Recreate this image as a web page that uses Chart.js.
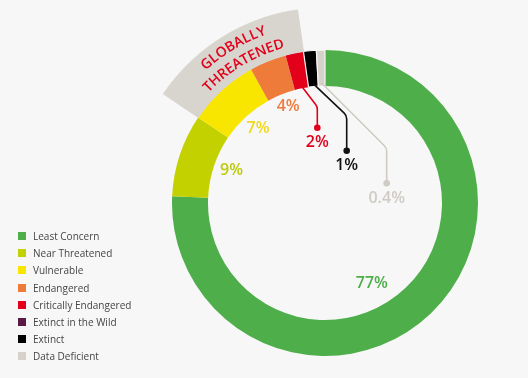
<!DOCTYPE html>
<html><head><meta charset="utf-8">
<script src="https://cdn.jsdelivr.net/npm/chart.js@4"></script>
<style>
html,body{margin:0;padding:0;background:#f7f7f7;}
#wrap{position:relative;width:528px;height:378px;overflow:hidden;background:#f7f7f7;}
#c{position:absolute;left:0;top:0;}
#legend{position:absolute;left:18px;top:227.5px;font-family:"Open Sans",sans-serif;font-size:10px;color:#454545;}
.row{height:17.2px;display:flex;align-items:center;white-space:nowrap;}
.sw{width:8px;height:8px;margin-right:7px;flex:none;}
</style></head>
<body><div id="wrap"><canvas id="c" width="528" height="406"></canvas><div id="legend"></div></div>
<script>
// ---- data ----
const categories = ["Least Concern","Near Threatened","Vulnerable","Endangered","Critically Endangered","Extinct in the Wild","Extinct","Data Deficient"];
const arcShare = [75.7, 8.75, 7.5, 3.9, 1.9, 0, 1.35, 0.9];
const percentLabels = ["77%","9%","7%","4%","2%","","1%","0.4%"];
const threatened = [false,false,true,true,true,false,false,false];
const bandTitle = ["GLOBALLY","THREATENED"];

// ---- styles ----
const colors = ["#4dae4a","#c4d100","#f9e600","#ef7b3b","#e2001a","#5b1a45","#000000","#d6d2ca"];
const labelColors = ["#4dae4a","#bccb0a","#f0d81c","#ef7b3b","#e2001a","#5b1a45","#111111","#cfcbc4"];
const bandColor = "#d8d4ce";
const bg = "#f7f7f7";

// legend (HTML)
const lg = document.getElementById('legend');
categories.forEach((c,i)=>{
  const r=document.createElement('div'); r.className='row';
  const s=document.createElement('span'); s.className='sw'; s.style.background=colors[i];
  const t=document.createElement('span'); t.textContent=c;
  r.appendChild(s); r.appendChild(t); lg.appendChild(r);
});

const overlay = {
  id:'overlay',
  afterDatasetsDraw(chart, args, o){
    const ctx = chart.ctx;
    const band = chart.getDatasetMeta(0).data;
    const ring = chart.getDatasetMeta(1).data;
    const cx = ring[0].x, cy = ring[0].y;
    const inR = ring[0].innerRadius;
    ctx.save();
    // curved band title
    const tIdx = threatened.map((t,i)=>t?i:-1).filter(i=>i>=0);
    const a0 = band[tIdx[0]].startAngle, a1 = band[tIdx[tIdx.length-1]].endAngle;
    const mid = (a0+a1)/2 + o.bandShift*Math.PI/180;
    const bIn = band[0].innerRadius, bOut = band[0].outerRadius;
    ctx.font = o.bandFont; ctx.fillStyle = o.bandTextColor;
    ctx.textAlign='center'; ctx.textBaseline='middle';
    bandTitle.forEach((line, li)=>{
      const r = bIn + o.bandRadii[li]*(bOut-bIn);
      const ws = [...line].map(ch=>ctx.measureText(ch).width);
      const W = ws.reduce((a,b)=>a+b,0) + o.bandSpacing*(ws.length-1);
      let s = -W/2;
      [...line].forEach((ch,k)=>{
        const a = mid + (s + ws[k]/2)/r;
        ctx.save();
        ctx.translate(cx + r*Math.cos(a), cy + r*Math.sin(a));
        ctx.rotate(a + Math.PI/2);
        ctx.fillText(ch,0,0);
        ctx.restore();
        s += ws[k] + o.bandSpacing;
      });
    });
    // percent labels
    ctx.font = o.labelFont;
    ring.forEach((arc,i)=>{
      const txt = percentLabels[i];
      if(!txt) return;
      ctx.fillStyle = labelColors[i];
      const lead = o.leaders[i];
      if(!lead){
        const a = (arc.startAngle+arc.endAngle)/2 + (o.angleShift[i]||0)*Math.PI/180;
        const r = inR - o.inset[i];
        ctx.fillText(txt, cx + r*Math.cos(a), cy + r*Math.sin(a));
      } else {
        const a = (arc.startAngle+arc.endAngle)/2;
        const sx = cx + (inR+3)*Math.cos(a), sy = cy + (inR+3)*Math.sin(a);
        const dx = cx + lead.dot[0], dy = cy + lead.dot[1];
        const kx = dx, ky = sy + (dx - sx)*lead.slope;
        ctx.strokeStyle = labelColors[i]; ctx.lineWidth = 1.6;
        ctx.beginPath(); ctx.moveTo(sx,sy);
        ctx.arcTo(kx,ky,dx,dy,8);
        ctx.lineTo(dx,dy); ctx.stroke();
        ctx.beginPath(); ctx.arc(dx,dy,3.3,0,Math.PI*2); ctx.fill();
        ctx.fillText(txt, dx, dy + o.leaderGap);
      }
    });
    ctx.restore();
  }
};

new Chart(document.getElementById('c'), {
  type:'doughnut',
  data:{
    labels: categories,
    datasets:[
      { data: arcShare, weight:42,
        backgroundColor: threatened.map(t=>t?bandColor:'rgba(0,0,0,0)'),
        borderColor: threatened.map(t=>t?bandColor:'rgba(0,0,0,0)'),
        borderWidth: threatened.map(t=>t?1:0) },
      { data: arcShare, weight:36,
        backgroundColor: colors,
        borderColor: bg,
        borderWidth: [0,0,0,0,0,0,1.2,1.2] }
    ]
  },
  options:{
    responsive:false, animation:false,
    radius:195, cutout:'60%',
    layout:{padding:{left:122}},
    plugins:{
      legend:{display:false}, tooltip:{enabled:false},
      overlay:{
        bandFont:'600 14px "Open Sans"', bandTextColor:'#e2001a',
        bandRadii:[0.70,0.27], bandSpacing:0.3, bandShift:1.5,
        labelFont:'600 16px "Open Sans"',
        inset:[24,18,16.5,14,0,0,0,0],
        angleShift:[13.5,1,0.7,1,0,0,0,0],
        leaders:[null,null,null,null,{dot:[-7.7,-75.3],slope:1.3},null,{dot:[21.7,-52.3],slope:0.95},{dot:[61.7,-19.7],slope:1.0}],
        leaderGap:15
      }
    }
  },
  plugins:[overlay]
});
</script>
</body></html>
